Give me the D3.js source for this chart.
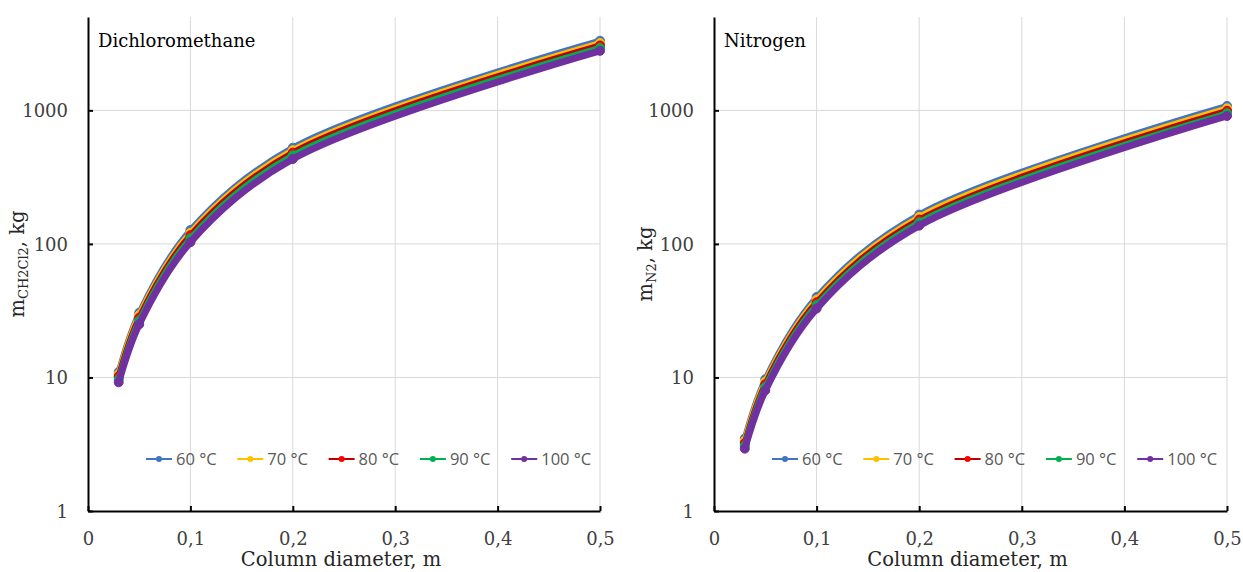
<!DOCTYPE html>
<html>
<head>
<meta charset="utf-8">
<script src="https://cdn.jsdelivr.net/npm/d3@7"></script>
<style>
  html, body { margin: 0; padding: 0; background: #fff; }
  svg { display: block; }
</style>
</head>
<body>
<svg id="chart" width="1243" height="572"></svg>
<script>
// ---------- data ----------
const diameters = [0.03, 0.05, 0.1, 0.2, 0.5];
const temperatures = ["60 °C", "70 °C", "80 °C", "90 °C", "100 °C"];
const seriesColors = ["#4472C4", "#FFC000", "#C00000", "#00B050", "#7030A0"];
const markerColors = ["#4472C4", "#FFC000", "#FF0000", "#00B050", "#7030A0"];

const dcm60  = [11.0, 30.5, 127, 525, 3320];
const dcm70  = [10.6, 29.3, 121, 503, 3190];
const dcm80  = [10.2, 28.0, 116, 482, 3060];
const dcm90  = [9.7, 26.6, 110, 460, 2930];
const dcm100 = [9.2, 25.0, 103, 432, 2790];

const n2_60  = [3.5, 9.7, 40.0, 166, 1080];
const n2_70  = [3.36, 9.3, 38.2, 159, 1035];
const n2_80  = [3.22, 8.9, 36.5, 152, 992];
const n2_90  = [3.08, 8.5, 34.8, 145, 950];
const n2_100 = [2.93, 8.0, 32.8, 137, 908];

const xTicks = [0, 0.1, 0.2, 0.3, 0.4, 0.5];
const xTickLabels = ["0", "0,1", "0,2", "0,3", "0,4", "0,5"];
const yTicks = [1, 10, 100, 1000];
const yTickLabels = ["1", "10", "100", "1000"];
const yDomain = [1, 5000];
const xDomain = [0, 0.5];

// ---------- layout ----------
const svg = d3.select("#chart");
const plotTop = 17, plotBottom = 511;
const serif = "'DejaVu Serif', serif";
const sans = "'Open Sans', sans-serif";

const panels = [
  { x0: 88, x1: 600, title: "Dichloromethane", sub: "CH2Cl2", series: [dcm60, dcm70, dcm80, dcm90, dcm100], titleX: 24 },
  { x0: 714, x1: 1227, title: "Nitrogen", sub: "N2", series: [n2_60, n2_70, n2_80, n2_90, n2_100], titleX: 652 }
];

panels.forEach(p => {
  const x = d3.scaleLinear().domain(xDomain).range([p.x0, p.x1]);
  const y = d3.scaleLog().domain(yDomain).range([plotBottom, plotTop]);
  const g = svg.append("g");

  // grid
  g.selectAll(null).data(yTicks.slice(1)).join("line")
    .attr("x1", p.x0).attr("x2", p.x1)
    .attr("y1", d => y(d)).attr("y2", d => y(d))
    .attr("stroke", "#d9d9d9").attr("stroke-width", 1);
  g.selectAll(null).data(xTicks.slice(1)).join("line")
    .attr("x1", d => x(d)).attr("x2", d => x(d))
    .attr("y1", plotTop).attr("y2", plotBottom)
    .attr("stroke", "#d9d9d9").attr("stroke-width", 1);

  // axes
  const xAxis = d3.axisBottom(x).tickValues(xTicks).tickSizeInner(-5).tickSizeOuter(0)
    .tickFormat((d, i) => xTickLabels[i]);
  const xg = g.append("g").attr("transform", `translate(0,${plotBottom})`).call(xAxis);
  xg.select(".domain").attr("stroke", "#000").attr("stroke-width", 2);
  xg.selectAll(".tick line").attr("stroke", "#000").attr("stroke-width", 2);
  xg.selectAll(".tick text").attr("font-family", serif).attr("font-size", 18)
    .attr("fill", "#404040").attr("y", 0).attr("dy", 34);

  const yAxis = d3.axisLeft(y).tickValues(yTicks).tickSizeInner(-5).tickSizeOuter(0)
    .tickFormat((d, i) => yTickLabels[i]);
  const yg = g.append("g").attr("transform", `translate(${p.x0},0)`).call(yAxis);
  yg.select(".domain").attr("stroke", "#000").attr("stroke-width", 2);
  yg.selectAll(".tick line").attr("stroke", "#000").attr("stroke-width", 2);
  yg.selectAll(".tick text").attr("font-family", serif).attr("font-size", 18)
    .attr("fill", "#404040").attr("x", -20).attr("dy", "0.36em");

  // series
  const line = d3.line().x((d, i) => x(diameters[i])).y(d => y(d)).curve(d3.curveCatmullRom.alpha(0.5));
  p.series.forEach((vals, si) => {
    g.append("path").datum(vals).attr("d", line)
      .attr("fill", "none").attr("stroke", seriesColors[si]).attr("stroke-width", si === 4 ? 7 : 6)
      .attr("stroke-linejoin", "round").attr("stroke-linecap", "round");
    g.selectAll(null).data(vals).join("circle")
      .attr("cx", (d, i) => x(diameters[i])).attr("cy", d => y(d)).attr("r", 4.5)
      .attr("fill", markerColors[si]).attr("stroke", seriesColors[si]).attr("stroke-width", 1);
  });

  // panel title
  g.append("text").attr("x", p.x0 + 10).attr("y", 47)
    .attr("font-family", serif).attr("font-size", 18).attr("fill", "#000").text(p.title);

  // y title
  const yt = g.append("text")
    .attr("transform", `translate(${p.titleX},${(plotTop + plotBottom) / 2}) rotate(-90)`)
    .attr("text-anchor", "middle").attr("font-family", serif).attr("font-size", 19.5).attr("fill", "#262626");
  yt.append("tspan").text("m");
  yt.append("tspan").attr("font-size", 13).attr("dy", 4).text(p.sub);
  yt.append("tspan").attr("dy", -4).text(", kg");

  // x title
  g.append("text").attr("x", (p.x0 + p.x1) / 2 - 3).attr("y", 566)
    .attr("text-anchor", "middle").attr("font-family", serif).attr("font-size", 19.5)
    .attr("fill", "#262626").text("Column diameter, m");

  // legend
  const lg = g.append("g").attr("transform", `translate(${p.x0 + 58},459)`);
  temperatures.forEach((t, i) => {
    const it = lg.append("g").attr("transform", `translate(${i * 91.3},0)`);
    it.append("line").attr("x1", 0).attr("x2", 26).attr("y1", 0).attr("y2", 0)
      .attr("stroke", seriesColors[i]).attr("stroke-width", 2);
    it.append("circle").attr("cx", 13).attr("cy", 0).attr("r", 3).attr("fill", markerColors[i]);
    it.append("text").attr("x", 30).attr("y", 0).attr("dy", "0.35em")
      .attr("font-family", sans).attr("font-size", 16.5).attr("fill", "#595959").text(t);
  });
});
</script>
</body>
</html>
